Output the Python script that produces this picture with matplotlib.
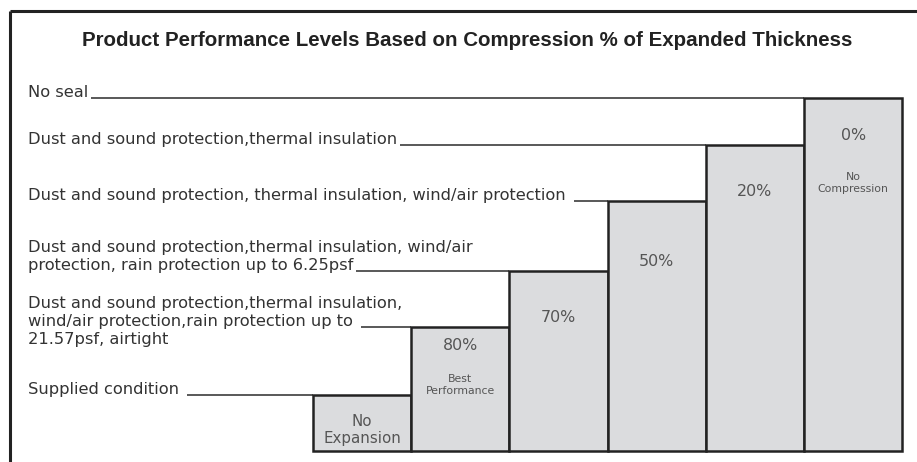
import matplotlib
matplotlib.use("Agg")
import matplotlib.pyplot as plt

# Left-hand descriptions, bottom to top (one per bar)
levels = [
    "Supplied condition ",
    "Dust and sound protection,thermal insulation,\nwind/air protection,rain protection up to ",
    "Dust and sound protection,thermal insulation, wind/air\nprotection, rain protection up to 6.25psf",
    "Dust and sound protection, thermal insulation, wind/air protection ",
    "Dust and sound protection,thermal insulation",
    "No seal",
]
level_tails = ["", "21.57psf, airtight", "", "", "", ""]

# Step heights (pixels above the baseline)
bar_heights = [56, 124, 180, 250, 306, 353]
bar_labels = ["No\nExpansion", "80%", "70%", "50%", "20%", "0%"]
bar_notes = ["", "Best\nPerformance", "", "", "", "No\nCompression"]

title = "Product Performance Levels Based on Compression % of Expanded Thickness"

# layout (pixel-like units, y up from the bar baseline)
W, H = 917, 462
BASE = 451
x0, step, bw = 313, 98.2, 98.2
label_x = 28
label_drop = [35, 18, 46, 60, 46, 37]   # centre of bar label below bar top
note_drop = [0, 58, 0, 0, 0, 85]
text_c = "#333333"
bar_fc = "#dbdcde"
edge_c = "#222222"
fs = 11.7

fig = plt.figure(figsize=(W / 100, H / 100), dpi=100)
ax = fig.add_axes([0, 0, 1, 1])
ax.set_xlim(0, W)
ax.set_ylim(BASE - H, BASE)
ax.axis("off")

lefts = [x0 + i * step for i in range(len(bar_heights))]
ax.bar(lefts, bar_heights, width=bw, align="edge", bottom=0,
       color=bar_fc, edgecolor=edge_c, linewidth=1.8, zorder=3)

for i, h in enumerate(bar_heights):
    cx = lefts[i] + bw / 2
    ax.text(cx, h - label_drop[i], bar_labels[i], ha="center", va="center",
            fontsize=10.8 if "\n" in bar_labels[i] else 11.4, color="#555555",
            linespacing=1.25, zorder=4)
    if bar_notes[i]:
        ax.text(cx, h - note_drop[i], bar_notes[i], ha="center", va="center",
                fontsize=7.8, color="#555555", linespacing=1.25, zorder=4)

# descriptions with leader lines to the top-left corner of each step
fig.canvas.draw()
renderer = fig.canvas.get_renderer()
inv = ax.transData.inverted()
for i, (lvl, h) in enumerate(zip(levels, bar_heights)):
    ax.text(label_x, h + 1, lvl, ha="left", va="baseline", fontsize=fs,
            color=text_c, linespacing=1.25)
    if level_tails[i]:
        ax.text(label_x, h + 1 - 18, level_tails[i], ha="left", va="baseline",
                fontsize=fs, color=text_c)
    last = lvl.split("\n")[-1]
    probe = ax.text(label_x, h + 1, last, ha="left", va="baseline",
                    fontsize=fs, alpha=0)
    bb = probe.get_window_extent(renderer)
    xend = inv.transform((bb.x1, bb.y0))[0]
    probe.remove()
    ax.plot([xend + 3, lefts[i]], [h, h], color="#3c3c3c", lw=1.2,
            solid_capstyle="butt", zorder=2)

ax.text(467, BASE - 40, title, ha="center", va="center", fontsize=14.8,
        fontweight="bold", family="Liberation Sans", color="#222222")

# frame (top and left edge)
ax.plot([10, W], [BASE - 11, BASE - 11], color=edge_c, lw=2.2,
        solid_capstyle="butt", clip_on=False)
ax.plot([10, 10], [BASE - 11, BASE - H], color=edge_c, lw=2.2,
        solid_capstyle="butt", clip_on=False)

fig.savefig("out.png", dpi=100, facecolor="white")
